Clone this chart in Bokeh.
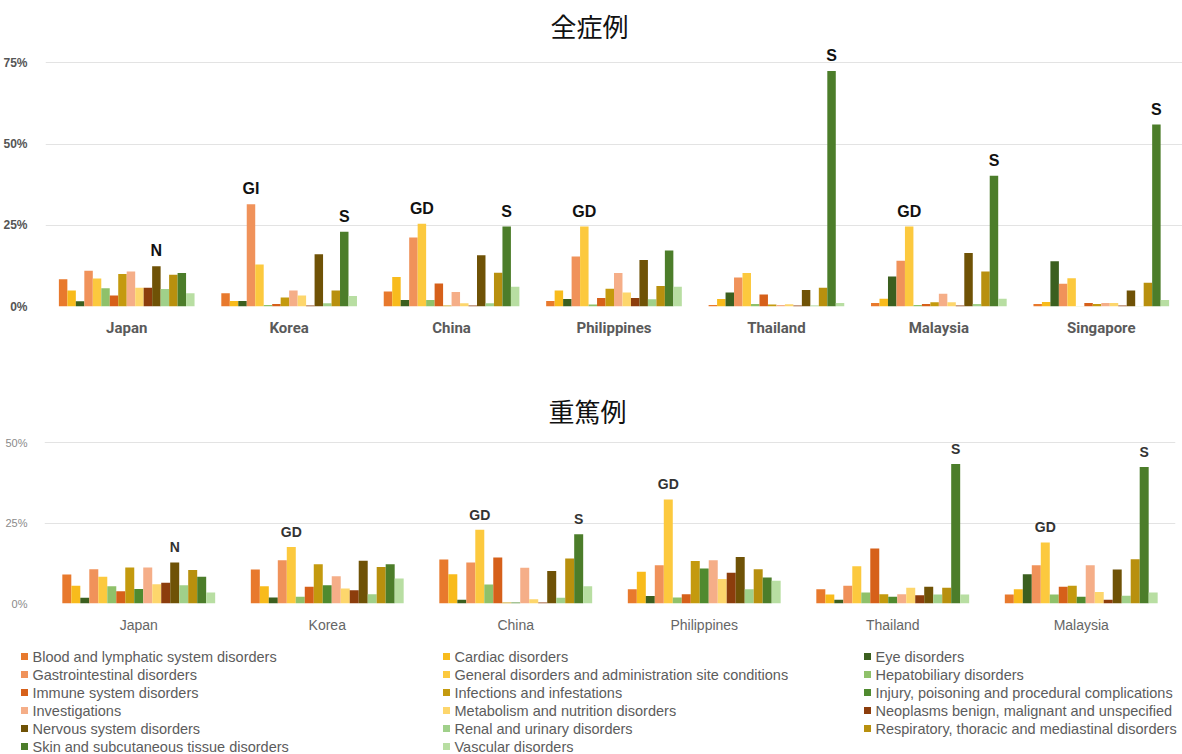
from bokeh.plotting import figure
from bokeh.models import ColumnDataSource, FactorRange, FixedTicker, PrintfTickFormatter, Range1d
from bokeh.transform import dodge
from bokeh.layouts import column, row
from bokeh.core.properties import value
from bokeh.embed import file_html
from bokeh.resources import INLINE

# Adverse-event categories (SOC) and their colours
CATEGORIES = [
    "Blood and lymphatic system disorders",
    "Cardiac disorders",
    "Eye disorders",
    "Gastrointestinal disorders",
    "General disorders and administration site conditions",
    "Hepatobiliary disorders",
    "Immune system disorders",
    "Infections and infestations",
    "Injury, poisoning and procedural complications",
    "Investigations",
    "Metabolism and nutrition disorders",
    "Neoplasms benign, malignant and unspecified",
    "Nervous system disorders",
    "Renal and urinary disorders",
    "Respiratory, thoracic and mediastinal disorders",
    "Skin and subcutaneous tissue disorders",
    "Vascular disorders",
]
COLORS = [
    "#e8792d", "#f8bb1c", "#3b5f1f", "#f0925a", "#fcc93e", "#8fc16a",
    "#d6601a", "#c49a0e", "#4f8a2f", "#f5ae88", "#fdd66c", "#8c3d0c",
    "#6f5206", "#a0d08a", "#b8900e", "#4c7d2a", "#b8dea2",
]

# ---- all cases (%), injury category not reported ----
ALL_COUNTRIES = ["Japan", "Korea", "China", "Philippines", "Thailand", "Malaysia", "Singapore"]
ALL_SERIES = [c for c in CATEGORIES if c != "Injury, poisoning and procedural complications"]
ALL_JAPAN = [8.4, 4.9, 1.6, 11.0, 8.6, 5.6, 3.4, 10.0, 10.8, 5.8, 5.8, 12.4, 5.4, 9.8, 10.3, 4.1]
ALL_KOREA = [4.1, 1.7, 1.7, 31.5, 12.9, 0.5, 0.8, 2.8, 4.9, 3.4, 0.3, 16.1, 1.0, 4.9, 23.0, 3.2]
ALL_CHINA = [4.6, 9.1, 2.0, 21.2, 25.5, 2.0, 7.1, 0.3, 4.5, 1.0, 0.3, 15.8, 1.0, 10.4, 24.6, 6.1]
ALL_PHILIPPINES = [1.7, 4.9, 2.3, 15.4, 24.6, 0.6, 2.6, 5.5, 10.3, 4.3, 2.6, 14.3, 2.2, 6.3, 17.2, 6.1]
ALL_THAILAND = [0.5, 2.3, 4.3, 8.9, 10.3, 0.8, 3.7, 0.6, 0.5, 0.7, 0.3, 5.1, 0.3, 5.8, 72.5, 1.1]
ALL_MALAYSIA = [1.1, 2.4, 9.2, 14.1, 24.6, 0.5, 0.8, 1.3, 3.9, 1.3, 0.3, 16.5, 0.8, 10.8, 40.2, 2.4]
ALL_SINGAPORE = [0.8, 1.4, 13.9, 7.0, 8.7, 0.1, 1.1, 0.8, 1.1, 1.1, 0.3, 4.9, 0.1, 7.3, 56.0, 2.0]
ALL_MARKS = [
    ("Japan", "Nervous system disorders", "N"),
    ("Korea", "Gastrointestinal disorders", "GI"),
    ("Korea", "Skin and subcutaneous tissue disorders", "S"),
    ("China", "General disorders and administration site conditions", "GD"),
    ("China", "Skin and subcutaneous tissue disorders", "S"),
    ("Philippines", "General disorders and administration site conditions", "GD"),
    ("Thailand", "Skin and subcutaneous tissue disorders", "S"),
    ("Malaysia", "General disorders and administration site conditions", "GD"),
    ("Malaysia", "Skin and subcutaneous tissue disorders", "S"),
    ("Singapore", "Skin and subcutaneous tissue disorders", "S"),
]

# ---- serious cases (%) ----
SER_COUNTRIES = ["Japan", "Korea", "China", "Philippines", "Thailand", "Malaysia"]
SER_SERIES = list(CATEGORIES)
SER_JAPAN = [9.0, 5.5, 1.8, 10.7, 8.3, 5.4, 3.8, 11.2, 4.5, 11.2, 6.0, 6.5, 12.8, 5.7, 10.4, 8.3, 3.4]
SER_KOREA = [10.6, 5.4, 1.9, 13.5, 17.6, 2.1, 5.2, 12.2, 5.7, 8.5, 4.7, 4.1, 13.3, 2.9, 11.4, 12.2, 7.8]
SER_CHINA = [13.7, 9.1, 1.2, 12.8, 23.0, 5.9, 14.3, 0.3, 0.3, 11.1, 1.3, 0.3, 10.1, 1.8, 14.0, 21.6, 5.4]
SER_PHILIPPINES = [4.4, 9.9, 2.3, 11.9, 32.4, 1.9, 2.9, 13.2, 10.9, 13.5, 7.6, 9.6, 14.5, 4.4, 10.7, 8.1, 7.1]
SER_THAILAND = [4.4, 2.8, 1.2, 5.5, 11.6, 3.4, 17.1, 2.9, 2.1, 2.9, 4.9, 2.6, 5.2, 2.8, 4.9, 43.4, 2.8]
SER_MALAYSIA = [2.8, 4.4, 9.1, 11.9, 19.0, 2.8, 5.2, 5.5, 2.1, 11.9, 3.6, 1.2, 10.6, 2.4, 13.8, 42.5, 3.4]
SER_MARKS = [
    ("Japan", "Nervous system disorders", "N"),
    ("Korea", "General disorders and administration site conditions", "GD"),
    ("China", "General disorders and administration site conditions", "GD"),
    ("China", "Skin and subcutaneous tissue disorders", "S"),
    ("Philippines", "General disorders and administration site conditions", "GD"),
    ("Thailand", "Skin and subcutaneous tissue disorders", "S"),
    ("Malaysia", "General disorders and administration site conditions", "GD"),
    ("Malaysia", "Skin and subcutaneous tissue disorders", "S"),
]

ALL_ROWS = [ALL_JAPAN, ALL_KOREA, ALL_CHINA, ALL_PHILIPPINES, ALL_THAILAND, ALL_MALAYSIA, ALL_SINGAPORE]
SER_ROWS = [SER_JAPAN, SER_KOREA, SER_CHINA, SER_PHILIPPINES, SER_THAILAND, SER_MALAYSIA]


def make_panel(title, countries, rows, series, marks, *, height, border_top, border_bottom,
               border_left, border_right, ymax, ticks, bar_w, title_offset, title_standoff,
               tick_style, axis_style, mark_style):
    p = figure(width=1182, height=height, x_range=FactorRange(*countries),
               y_range=Range1d(0, ymax), output_backend="svg", toolbar_location=None,
               min_border_top=border_top, min_border_bottom=border_bottom,
               min_border_left=border_left, min_border_right=border_right)
    p.outline_line_color = None
    p.background_fill_color = "white"
    p.border_fill_color = "white"

    p.title.text = title
    p.title.align = "left"
    p.title.offset = title_offset
    p.title.standoff = title_standoff
    p.title.text_font = "Noto Sans CJK JP"
    p.title.text_font_size = "26px"
    p.title.text_font_style = "normal"
    p.title.text_color = "#111111"

    n = len(series)
    for j, name in enumerate(series):
        src = ColumnDataSource(dict(country=countries, share=[r[j] for r in rows]))
        off = (j - (n - 1) / 2) * bar_w
        p.vbar(x=dodge("country", off, range=p.x_range), top="share", width=bar_w,
               source=src, fill_color=COLORS[CATEGORIES.index(name)], line_color=None)

    for country, name, tag in marks:
        j = series.index(name)
        v = rows[countries.index(country)][j]
        off = (j - (n - 1) / 2) * bar_w
        src = ColumnDataSource(dict(country=[country], share=[v], tag=[tag]))
        p.text(x=dodge("country", off, range=p.x_range), y="share", text="tag", source=src,
               text_align="center", text_baseline="bottom", y_offset=mark_style["offset"],
               text_font=value("Liberation Sans"), text_font_style="bold",
               text_font_size=mark_style["size"], text_color=mark_style["color"])

    p.xgrid.grid_line_color = None
    p.ygrid.grid_line_color = "#e3e3e3"
    p.ygrid.ticker = FixedTicker(ticks=ticks)

    yax = p.yaxis[0]
    yax.ticker = FixedTicker(ticks=ticks)
    yax.formatter = PrintfTickFormatter(format="%d%%")
    yax.axis_line_color = None
    yax.major_tick_line_color = None
    yax.minor_tick_line_color = None
    yax.major_label_standoff = tick_style["standoff"]
    yax.major_label_text_font = tick_style["font"]
    yax.major_label_text_font_size = tick_style["size"]
    yax.major_label_text_font_style = tick_style["weight"]
    yax.major_label_text_color = tick_style["color"]

    xax = p.xaxis[0]
    xax.axis_line_color = None
    xax.major_tick_line_color = None
    xax.minor_tick_line_color = None
    xax.major_label_standoff = axis_style["standoff"]
    xax.major_label_text_font = axis_style["font"]
    xax.major_label_text_font_size = axis_style["size"]
    xax.major_label_text_font_style = axis_style["weight"]
    xax.major_label_text_color = axis_style["color"]
    return p


top = make_panel(
    "全症例", ALL_COUNTRIES, ALL_ROWS, ALL_SERIES, ALL_MARKS,
    height=342, border_top=46, border_bottom=36, border_left=43, border_right=0,
    ymax=80, ticks=[0, 25, 50, 75], bar_w=0.0522, title_offset=505, title_standoff=5,
    tick_style=dict(standoff=12, font="Liberation Sans", size="12px", weight="bold", color="#555555"),
    axis_style=dict(standoff=6, font="Roboto", size="15px", weight="bold", color="#5a5a5a"),
    mark_style=dict(offset=-7, size="16px", color="#111111"),
)

bottom = make_panel(
    "重篤例", SER_COUNTRIES, SER_ROWS, SER_SERIES, SER_MARKS,
    height=298, border_top=94, border_bottom=37, border_left=44, border_right=7,
    ymax=52, ticks=[0, 25, 50], bar_w=0.0477, title_offset=504, title_standoff=16,
    tick_style=dict(standoff=11, font="Liberation Sans", size="11px", weight="normal", color="#8a8a8a"),
    axis_style=dict(standoff=7, font="Liberation Sans", size="14px", weight="normal", color="#666666"),
    mark_style=dict(offset=-7, size="14px", color="#333333"),
)

# legend drawn on a pixel-coordinate canvas, three columns filled row by row
leg = figure(width=1182, height=114, x_range=Range1d(0, 1182), y_range=Range1d(114, 0),
             output_backend="svg", toolbar_location=None, min_border=0,
             x_axis_location=None, y_axis_location=None)
leg.outline_line_color = None
leg.grid.visible = False
col_x = [24, 446, 867]
xs = [col_x[i % 3] for i in range(len(CATEGORIES))]
ys = [16 + 18 * (i // 3) for i in range(len(CATEGORIES))]
leg.scatter(xs, ys, marker="square", size=7, fill_color=COLORS, line_color=None)
leg.text([x + 8 for x in xs], ys, text=CATEGORIES, text_baseline="middle", text_align="left",
         text_font=value("Liberation Sans"), text_font_size="14.5px", text_color="#5c5c5c")

# each chart sits in its own row so the frames keep their own borders
layout = column(row(top), row(bottom), row(leg))
open("out.html", "w").write(file_html(layout, INLINE))
